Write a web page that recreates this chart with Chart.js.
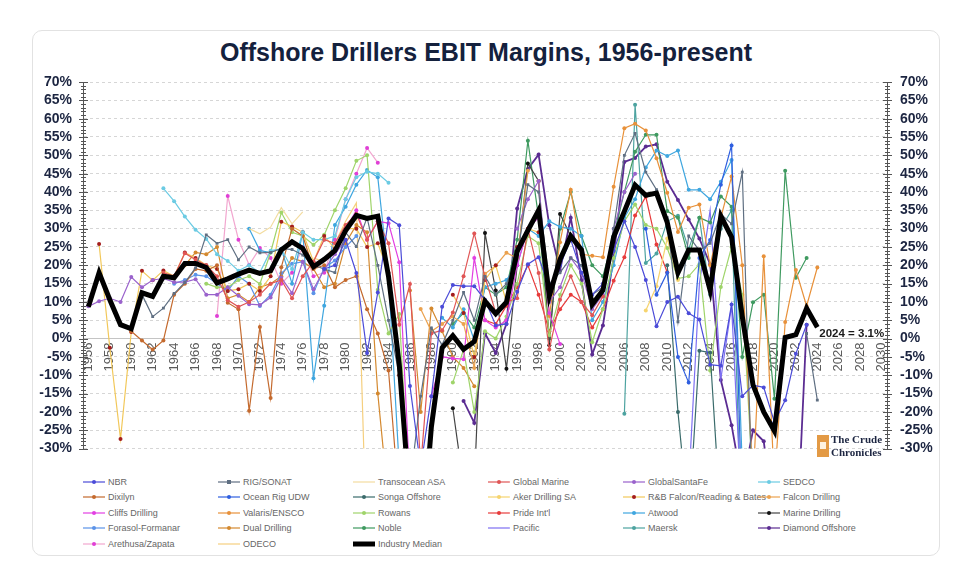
<!DOCTYPE html>
<html><head><meta charset="utf-8">
<script src="https://cdn.jsdelivr.net/npm/chart.js@4.4.1/dist/chart.umd.min.js"></script>
<style>
body{margin:0;background:#fff;font-family:"Liberation Sans",Arial,sans-serif;}
#card{position:absolute;left:32px;top:30px;width:906px;height:524px;border:1px solid #e2e2e2;border-radius:10px;}
#title{position:absolute;left:32px;width:908px;top:37px;text-align:center;font:bold 25px/30px "Liberation Sans",Arial,sans-serif;color:#14213d;}
#wrap{position:absolute;left:0;top:0;width:964px;height:470px;}
#legend{position:absolute;left:83px;top:474px;display:grid;grid-template-columns:repeat(6,135px);grid-auto-rows:15.5px;font:9px "Liberation Sans",Arial,sans-serif;color:#666;}
.li{display:flex;align-items:center;white-space:nowrap;}
.li svg{margin-right:3px;flex:none}
#logo{position:absolute;left:817px;top:434px;}
#logo .box{position:absolute;left:0;top:1px;width:12px;height:22px;background:#e39a45;}
#logo .box i{position:absolute;left:3px;top:7px;width:6px;height:7px;background:#fff3e0;}
#logo .txt{position:absolute;left:14px;top:-1px;font:bold 11px/12.5px "Liberation Serif","DejaVu Serif",serif;color:#1c2541;white-space:nowrap;}
</style></head>
<body>
<div id="card"></div>
<div id="title">Offshore Drillers EBIT Margins, 1956-present</div>
<div id="wrap"><canvas id="c"></canvas></div>
<div id="legend"></div>
<div id="logo"><div class="box"><i></i></div><div class="txt">The Crude<br>Chronicles</div></div>
<script>
// ---- categories ----
const FIRST_YEAR = 1956, LAST_YEAR = 2030;
const years = [];
for (let y = FIRST_YEAR; y <= LAST_YEAR; y++) years.push(String(y));

// ---- series values (EBIT margin %, each series starts at its *_FROM year) ----
const NBR_FROM = 1978;
const NBR = [19,20,27,17.9,-3.9,12.6,32.8,30.9,-12.9,-35,-15.7,8.7,14.6,14.3,14.3,10.6,3.6,4,12.8,20.3,22.2,14,20,27,18,12,15,24,32,25,16,3.4,10,11.4,6.9,5.2,-7.1,-7.4,9.3,-15.7,-12.7,-13.3,-22.8,-16.8,-4.1,3.8];
const RIG_FROM = 1961;
const RIG = [12,6,8.3,12.3,15.3,19.3,28.3,26,27,21.5,25,23.4,23.5,24.6,24.3,22.8,20,19,18,29,25.1,33,20,5,-10,-40,-15.7,2.9,-1.7,5,12.6,5,17,12,15,22,42,40,15,18,22,20,12,14,30,50,56,45.4,40.6,33,4.6,28,24,26,34,31.3,45.4,-50,null,null,null,null,1.4,-16.8];
const TRANSOCEAN_FROM = 1971;
const TRANSOCEAN = [30,28.6,30.4,35.7,31.3,34.6];
const GLOBALMARINE_FROM = 1963;
const GLOBALMARINE = [18,17,23.3,21.5,20,17,10.5,8.7,10,12,15,16,11,17,21,27,26,31,34,27,32,26,3.8,14.9,-35,1.4,2.3,7.1,17,28.7,16.8,7.1,10,11,30,17.9,-3,10.6,17,9.9,6.4,11.5];
const GSF_FROM = 1956;
const GSF = [8.8,10.2,11,10,16.8,14,16,16.4,15.4,15.4,16.2,12,12,14,11.7,9.4,9.2,11.2,16.6,12.4,21,13.5,18.8,23,27,null,null,null,null,null,null,null,null,null,null,null,null,null,null,null,30,38,43,10,14,22,18,8,12,30,40,45];
const SEDCO_FROM = 1963;
const SEDCO = [41,37.5,33.3,29.7,27.2,23,21.2,18.5,20,18,24,24.5,19,29,27,27,28,38,44,45.5,45,42.5];
const DIXILYN_FROM = 1960;
const DIXILYN = [2,-0.5,-3,-0.5,12,15,19,18.5,20,9.8,8,-19.7,3.2,-16.2,19.5,30,28,19,20,14,16,17,8,1.4,-8.7,-45];
const OCEANRIG_FROM = 2008;
const OCEANRIG = [30,12,18,-5,-12,22,26.9,42,52.7,-50];
const SONGA_FROM = 2010;
const SONGA = [20,-20,-50,-3.3,-3.8,-50];
const AKER_FROM = 2008;
const AKER = [7.7,14.3,27.3,16];
const RBF_FROM = 1957;
const RBF = [25.8,-2.5,-27.4,1.8,18.5,15.9,18.6,17,23.5,22,20,19,13,13.5,15,13,17,31.9,30.6,29,21,28,24.5,30,30,25,26,18,-10,-40,null,null,null,12,7,-5,16,20,10,25,30,29];
const FALCON_FROM = 1987;
const FALCON = [8.1,2,4,6,4,-8,17.7,19.9,23.4,22,45.8];
const CLIFFS_FROM = 1980;
const CLIFFS = [30,35,27,32,31.5,20.8,-40,null,-15.7,-5,-5.4,-5.6,22,5,3,5,20,30,33,7,-1.5];
const VALARIS_FROM = 1998;
const VALARIS = [43,6.2,26.3,40.6,23,22.6,22.2,41.4,57.4,58.6,56.8,49.2,39.8,29.1,35.7,36.6,20,33,44.2,20,-40,22.5,-40,4.5,18.7,8.9,19.4];
const ROWANS_FROM = 1967;
const ROWANS = [15,14,14,16,17,14.9,23.5,34.4,29,28,25.6,28.3,35,41,48.5,50,13.3,1.4,6.7,-45,null,null,null,-12,-3,-20,2,0,6,15,28,26,1,12,20,15,-1,8,22,32,36.6,31,30,24.7,16.4,17,20.3,-8.7,14.1,25,12,-40];
const PRIDE_FROM = 1993;
const PRIDE = [5,4,9,14,20,12,2,8,12,10,3,8,15.8,22.2,33.6,38.7,25.7,18.1];
const ATWOOD_FROM = 1971;
const ATWOOD = [30,24,23.5,24.5,15,29,-10.8,9,31,36,42,46,44,17,-35,null,null,null,5.7,3,8,-0.5,14,15,16,20,30,28,32,30.5,30,28,5,10,20,33,38,46.7,51.3,49.8,51.3,40.6,40.6,38,42.8,48.7,-35];
const MARINE_FROM = 1990;
const MARINE = [-19,-40,-40,28.8,13.1,-8.2,20,47.8,43,-1.8,34,28];
const FORASOL_FROM = 1964;
const FORASOL = [15,16,17.4,17,15,13,17,15,8.9,12,17.8,20.4,21,12.4,19.3,21.3,25,28];
const DUAL_FROM = 1965;
const DUAL = [20,23.5,23,25,11,12,10,14,15,17,22,21,19,14,15,26,31,29,-15,-45,null,13.1,-20,8.2,2,-5,-8,-13];
const NOBLE_FROM = 1990;
const NOBLE = [4,7,3,14,12,14,27,54,33,0,30,40,28,20,17,28,40,51,55.6,55.6,34.8,33,22,33,31.7,38.8,36,-5,9.9,12,-16.4,45.8,16.6,22];
const PACIFIC_FROM = 2012;
const PACIFIC = [-40,15,35,-11,9,-50];
const MAERSK_FROM = 2006;
const MAERSK = [-20.5,63.8,20.6,23.2,32,33.5,24.4,33,12,30,35,-60];
const DIAMOND_FROM = 1991;
const DIAMOND = [-17,-23,1.4,-3.9,4,35.5,46.3,50.2,30.9,18.5,33,16,-4.3,3.6,22.1,48.2,49.3,52.4,53,42.8,37.8,32.5,27.3,20.3,-11.3,-23.6,-40,-25,-28,-50,-60,-60,3.8];
const ARETHUSA_FROM = 1968;
const ARETHUSA = [6.2,38.9,27,20.1,24.7,22,15,18,25,17,18,27,38,45,52,48];
const ODECO_FROM = 1977;
const ODECO = [22,21,26,32,37,-60];
const MEDIAN_FROM = 1956;
const MEDIAN = [8.7,18,10.6,3.8,2.7,12.5,11.5,17,16.6,20.5,20.5,19.4,15.2,16.3,17.6,18.7,17.8,18.5,24.2,26.4,24.6,19.6,21.6,24,29.5,33.6,32.8,33.4,17,-7,-45,-60,-24,-2.5,0.8,-2.9,-0.8,10.2,6.8,9.9,23.8,29.5,35,11.7,21.6,28,24.2,9.3,13.2,27.7,34.7,41.9,39.1,39.7,31.7,18,24.2,24.2,13.2,33.4,27.7,6,-12.6,-20,-25.2,0.3,1.1,8.3,3.1];

// ---- y tick range ----
const Y_MIN = -30, Y_MAX = 70, Y_STEP = 5;

function pad(from, vals) {
  const out = years.map(() => null);
  vals.forEach((v, i) => { out[from - FIRST_YEAR + i] = v; });
  return out;
}

const series = [
  {label:'NBR', from:NBR_FROM, vals:NBR, color:'#4b4bd8'},
  {label:'RIG/SONAT', from:RIG_FROM, vals:RIG, color:'#5f6f82', style:'rect'},
  {label:'Transocean ASA', from:TRANSOCEAN_FROM, vals:TRANSOCEAN, color:'#f3dca0', noMarker:true},
  {label:'Global Marine', from:GLOBALMARINE_FROM, vals:GLOBALMARINE, color:'#e05555'},
  {label:'GlobalSantaFe', from:GSF_FROM, vals:GSF, color:'#9a62cc'},
  {label:'SEDCO', from:SEDCO_FROM, vals:SEDCO, color:'#6ccbe3'},
  {label:'Dixilyn', from:DIXILYN_FROM, vals:DIXILYN, color:'#c46a2e'},
  {label:'Ocean Rig UDW', from:OCEANRIG_FROM, vals:OCEANRIG, color:'#2f5fe0'},
  {label:'Songa Offshore', from:SONGA_FROM, vals:SONGA, color:'#3a6b6b'},
  {label:'Aker Drilling SA', from:AKER_FROM, vals:AKER, color:'#f6d46e'},
  {label:'R&B Falcon/Reading & Bates', from:RBF_FROM, vals:RBF, color:'#f2c85a', dot:'#a31d1d'},
  {label:'Falcon Drilling', from:FALCON_FROM, vals:FALCON, color:'#eba24f'},
  {label:'Cliffs Drilling', from:CLIFFS_FROM, vals:CLIFFS, color:'#e23fe2'},
  {label:'Valaris/ENSCO', from:VALARIS_FROM, vals:VALARIS, color:'#e8913a'},
  {label:'Rowans', from:ROWANS_FROM, vals:ROWANS, color:'#9fd46a'},
  {label:"Pride Int'l", from:PRIDE_FROM, vals:PRIDE, color:'#e73b3b'},
  {label:'Atwood', from:ATWOOD_FROM, vals:ATWOOD, color:'#3fa6df'},
  {label:'Marine Drilling', from:MARINE_FROM, vals:MARINE, color:'#444444', dot:'#111111'},
  {label:'Forasol-Formanar', from:FORASOL_FROM, vals:FORASOL, color:'#5b93e8'},
  {label:'Dual Drilling', from:DUAL_FROM, vals:DUAL, color:'#d4892f'},
  {label:'Noble', from:NOBLE_FROM, vals:NOBLE, color:'#3f9a60'},
  {label:'Pacific', from:PACIFIC_FROM, vals:PACIFIC, color:'#7d6ff2', noMarker:true},
  {label:'Maersk', from:MAERSK_FROM, vals:MAERSK, color:'#4da3a0'},
  {label:'Diamond Offshore', from:DIAMOND_FROM, vals:DIAMOND, color:'#5b2c92', width:1.8},
  {label:'Arethusa/Zapata', from:ARETHUSA_FROM, vals:ARETHUSA, color:'#f2a6cf', dot:'#e03fd6'},
  {label:'ODECO', from:ODECO_FROM, vals:ODECO, color:'#f5cf7e', noMarker:true},
  {label:'Industry Median', from:MEDIAN_FROM, vals:MEDIAN, color:'#000000', noMarker:true, width:5, median:true}
];

const datasets = series.map(s => ({
  label: s.label,
  data: pad(s.from, s.vals),
  borderColor: s.color,
  backgroundColor: s.dot || s.color,
  pointBackgroundColor: s.dot || s.color,
  pointBorderColor: s.dot || s.color,
  pointBorderWidth: 0,
  pointRadius: s.noMarker ? 0 : 2,
  pointStyle: s.style || 'circle',
  borderWidth: s.width || 1.2,
  tension: 0,
  spanGaps: false,
  order: s.median ? 0 : 1,
  yAxisID: 'y'
}));

const decor = {
  id: 'decor',
  afterDatasetsDraw(chart) {
    const {ctx, chartArea: a} = chart;
    const x = chart.scales.x, y = chart.scales.y;
    ctx.save();
    ctx.strokeStyle = '#555';
    ctx.lineWidth = 1;
    for (let v = Y_MIN; v <= Y_MAX; v++) {
      const py = Math.round(y.getPixelForValue(v)) + 0.5;
      const major = v % Y_STEP === 0;
      [a.left, a.right].forEach(ax => {
        ctx.beginPath();
        ctx.moveTo(ax - (major ? 4 : 2), py);
        ctx.lineTo(ax + (major ? 5 : 3), py);
        ctx.stroke();
      });
    }
    const lastIdx = MEDIAN.length - 1;
    const lastYear = MEDIAN_FROM + lastIdx;
    const lastVal = MEDIAN[lastIdx];
    const px = x.getPixelForValue(years.indexOf(String(lastYear)));
    const py = y.getPixelForValue(lastVal);
    ctx.fillStyle = '#1a1a1a';
    ctx.font = 'bold 11.5px "Liberation Sans", Arial, sans-serif';
    ctx.textAlign = 'left';
    ctx.textBaseline = 'middle';
    ctx.fillText(lastYear + ' = ' + lastVal.toFixed(1) + '%', px + 2, py + 7);
    ctx.restore();
  }
};

const yTicks = (pad) => ({
  stepSize: Y_STEP,
  autoSkip: false,
  maxTicksLimit: 40,
  padding: pad,
  color: '#1c2541',
  font: {size: 14, weight: 'bold', family: '"Liberation Sans", Arial, sans-serif'},
  callback: v => v + '%'
});

new Chart(document.getElementById('c'), {
  type: 'line',
  data: {labels: years, datasets},
  options: {
    responsive: true,
    maintainAspectRatio: false,
    animation: false,
    layout: {padding: {top: 82, bottom: 9, left: 0, right: 0}},
    plugins: {legend: {display: false}, tooltip: {enabled: false}, title: {display: false}},
    scales: {
      x: {
        type: 'category',
        offset: true,
        position: {y: 0},
        grid: {display: false, drawTicks: false},
        border: {display: true, color: '#c4c4c4', width: 1},
        ticks: {
          autoSkip: false, maxRotation: 90, minRotation: 90, padding: 4,
          color: '#5a5a5a', font: {size: 13, family: '"Liberation Sans", Arial, sans-serif'},
          callback: function(v, i) { return i % 2 === 0 ? this.getLabelForValue(v) : ''; }
        }
      },
      y: {
        type: 'linear', position: 'left', min: Y_MIN, max: Y_MAX,
        afterFit: s => { s.width = 83; },
        ticks: yTicks(11),
        grid: {color: '#d6d6d6', drawTicks: false},
        border: {display: true, color: '#555', dash: ctx => ctx.type === 'tick' ? [3, 3] : []}
      },
      y2: {
        type: 'linear', position: 'right', min: Y_MIN, max: Y_MAX,
        afterFit: s => { s.width = 77; },
        ticks: yTicks(13),
        grid: {drawOnChartArea: false, drawTicks: false},
        border: {display: true, color: '#555'}
      }
    }
  },
  plugins: [decor]
});

// ---- HTML legend (6-column grid, as in the reference) ----
const leg = document.getElementById('legend');
series.forEach(s => {
  const d = document.createElement('div');
  d.className = 'li';
  const w = s.median ? 5 : 1.2;
  let svg = '<svg width="22" height="8"><line x1="0" y1="4" x2="22" y2="4" stroke="' + s.color + '" stroke-width="' + w + '"/>';
  if (!s.noMarker) {
    const c = s.dot || s.color;
    svg += s.style === 'rect' ? '<rect x="9" y="2" width="4" height="4" fill="' + c + '"/>' : '<circle cx="11" cy="4" r="2" fill="' + c + '"/>';
  }
  svg += '</svg>';
  d.innerHTML = svg;
  const t = document.createElement('span');
  t.textContent = s.label;
  d.appendChild(t);
  leg.appendChild(d);
});
</script>
</body></html>
